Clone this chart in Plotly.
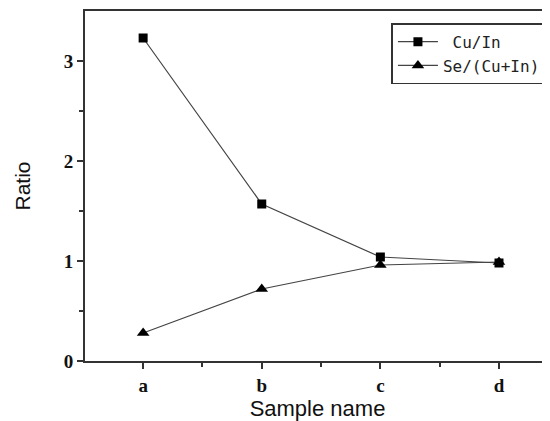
import plotly.graph_objects as go

categories = ["a", "b", "c", "d"]
cu_in = [3.23, 1.57, 1.04, 0.98]
se_cu_in = [0.28, 0.72, 0.96, 0.99]
y_ticks = [0, 1, 2, 3]
series_names = ["\u00a0Cu/In", "Se/(Cu+In)"]

xpos = list(range(len(categories)))

fig = go.Figure()
fig.add_trace(go.Scatter(
    x=xpos, y=cu_in, name=series_names[0], mode="lines+markers",
    line=dict(color="#444444", width=1.2),
    marker=dict(symbol="square", size=9, color="black"),
))
fig.add_trace(go.Scatter(
    x=xpos, y=se_cu_in, name=series_names[1], mode="lines+markers",
    line=dict(color="#444444", width=1.2),
    marker=dict(symbol="triangle-up", size=11, color="black"),
))

# page body has an 8px margin, so the figure is drawn 8px smaller
fig.update_layout(
    width=542, height=413,
    margin=dict(l=77, r=0, t=3, b=60),
    paper_bgcolor="white", plot_bgcolor="white",
    showlegend=True,
    legend=dict(
        x=0.659, y=0.965, xanchor="left", yanchor="top",
        bordercolor="#333333", borderwidth=1.5, bgcolor="white",
        font=dict(family="DejaVu Sans Mono", size=16, color="#222222"),
        tracegroupgap=0, itemwidth=40,
    ),
    xaxis=dict(
        range=[-0.49, 3.43],
        tickvals=xpos, ticktext=categories,
        showline=True, linecolor="#333333", linewidth=2, mirror=True,
        ticks="outside", ticklen=6, tickwidth=1.5, tickcolor="#333333",
        minor=dict(tickvals=[0.5, 1.5, 2.5], ticks="outside", ticklen=4, tickwidth=1.5, tickcolor="#333333"),
        showgrid=False, zeroline=False,
        tickfont=dict(family="Liberation Serif", size=19, color="#111111", weight="bold"),
        title=dict(text="Sample name", font=dict(family="Liberation Sans", size=22, color="#111111"), standoff=6),
    ),
    yaxis=dict(
        range=[0, 3.5],
        tickvals=y_ticks,
        showline=True, linecolor="#333333", linewidth=2, mirror=False,
        ticks="outside", ticklen=6, tickwidth=1.5, tickcolor="#333333",
        minor=dict(tickvals=[0.5, 1.5, 2.5], ticks="outside", ticklen=4, tickwidth=1.5, tickcolor="#333333"),
        showgrid=False, zeroline=False,
        tickfont=dict(family="Liberation Serif", size=19, color="#111111", weight="bold"),
        title=dict(text="Ratio", font=dict(family="Liberation Sans", size=21, color="#111111"), standoff=27),
    ),
)

fig.write_html("out.html")
